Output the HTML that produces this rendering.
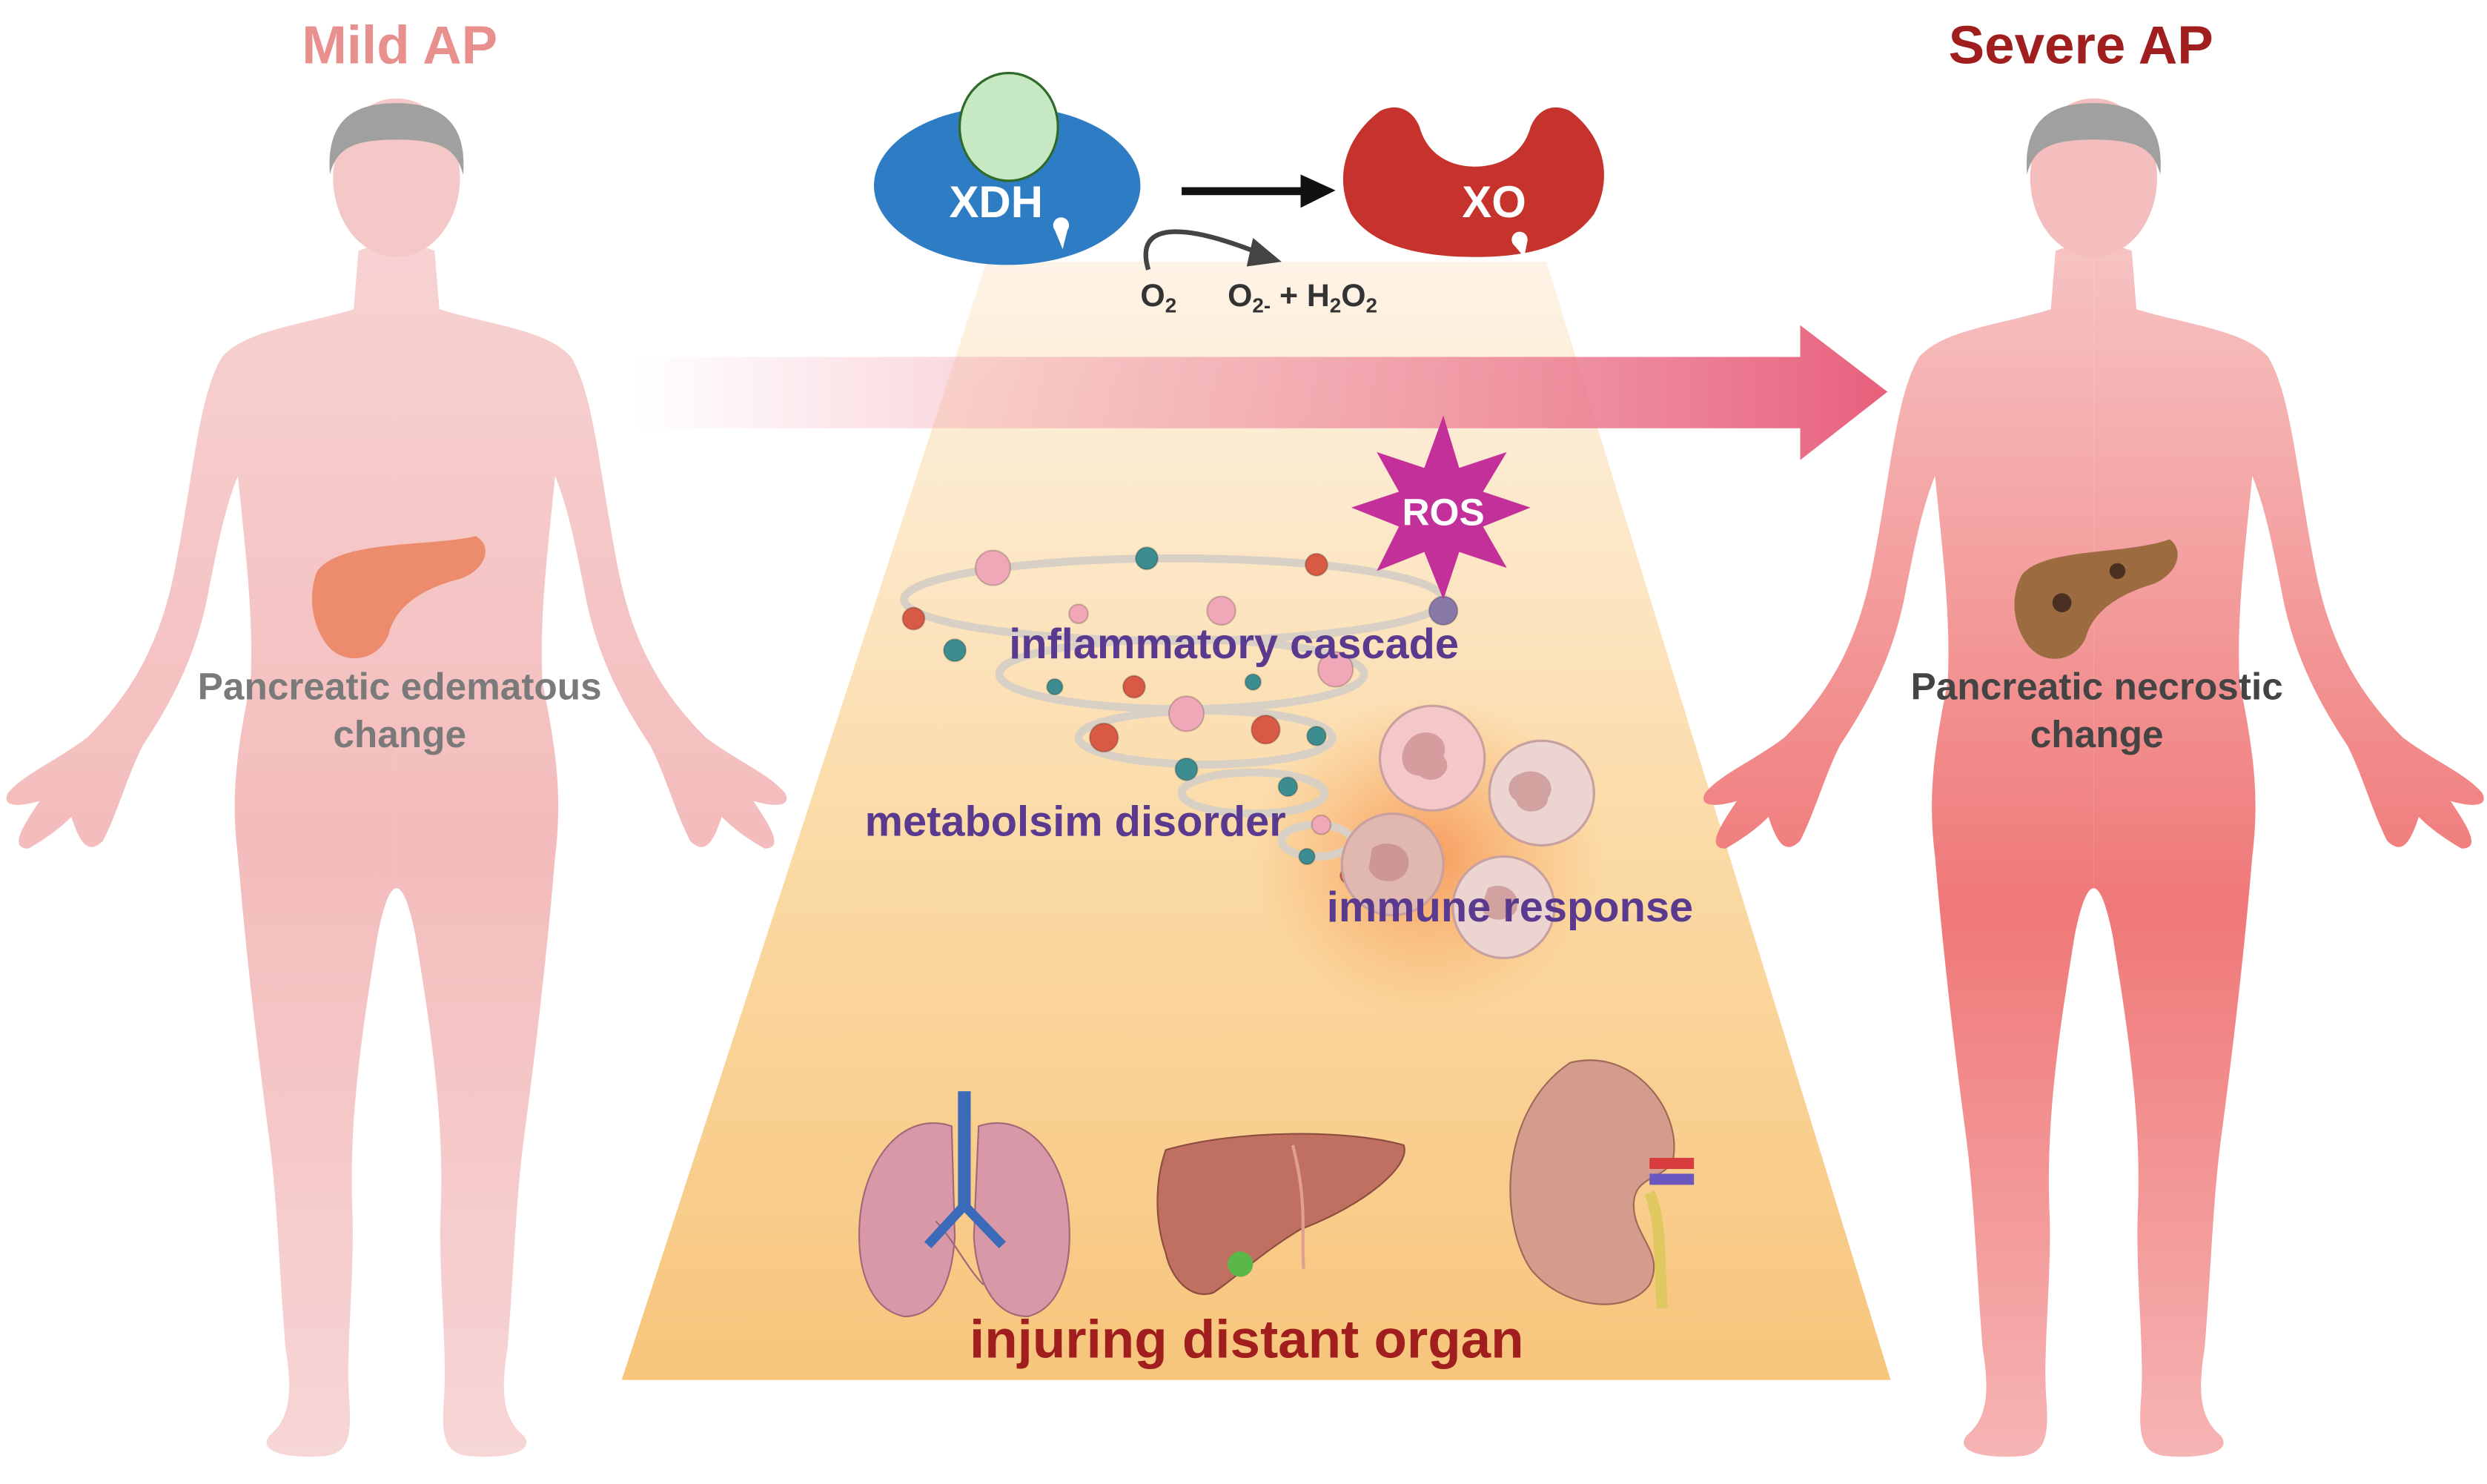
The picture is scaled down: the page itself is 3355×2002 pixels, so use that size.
<!DOCTYPE html>
<html><head><meta charset="utf-8"><style>
html,body{margin:0;padding:0;background:#fff;}
svg{display:block;}
text{font-family:"Liberation Sans",sans-serif;font-weight:bold;}
</style></head><body>
<svg width="3355" height="2002" viewBox="0 0 1568 935.6" xmlns="http://www.w3.org/2000/svg">
<defs>
<linearGradient id="trap" x1="0" y1="0" x2="0" y2="1">
<stop offset="0" stop-color="#fdf3e6"/><stop offset="0.5" stop-color="#fbdba8"/><stop offset="1" stop-color="#f7c57c"/></linearGradient>
<linearGradient id="arr" x1="0" y1="0" x2="1" y2="0">
<stop offset="0" stop-color="#f4a0b0" stop-opacity="0"/><stop offset="0.4" stop-color="#f09cac" stop-opacity="0.6"/><stop offset="1" stop-color="#e8607c"/></linearGradient>
<linearGradient id="bodyL" x1="0" y1="0" x2="0" y2="1">
<stop offset="0" stop-color="#f7d2d2"/><stop offset="0.5" stop-color="#f4bcbc"/><stop offset="1" stop-color="#f7d6d6"/></linearGradient>
<linearGradient id="bodyR" x1="0" y1="0" x2="0" y2="1">
<stop offset="0" stop-color="#f7c4c4"/><stop offset="0.55" stop-color="#f07878"/><stop offset="1" stop-color="#f6b4b4"/></linearGradient>
<radialGradient id="glow" cx="0.5" cy="0.5" r="0.5">
<stop offset="0" stop-color="#f58040" stop-opacity="0.7"/><stop offset="1" stop-color="#f8a050" stop-opacity="0"/></radialGradient>
<g id="half">
<path d="M0,150 L24,158 L27,195 C60,205 95,208 110,225 C125,250 128,300 140,360 C150,410 170,440 195,465 C215,480 235,488 245,500 C250,510 235,508 225,505 C235,520 245,535 232,535 C220,528 212,522 205,515 C200,530 195,540 185,530 C175,510 170,490 160,470 C140,440 125,410 118,370 C112,340 108,320 100,300 C95,350 90,390 92,430 C100,470 105,500 100,540 C95,600 88,660 80,720 C75,760 74,800 70,850 C65,880 68,895 80,905 C88,915 70,920 45,918 C30,916 28,905 30,880 C32,850 26,800 28,760 C30,700 20,640 12,590 C8,570 4,560 0,560 Z"/>
</g>
</defs>
<rect width="1568" height="935.6" fill="#fff"/>

<polygon points="622,165 975,165 1192,870 392,870" fill="url(#trap)"/>
<ellipse cx="900" cy="540" rx="110" ry="100" fill="url(#glow)"/>

<g transform="translate(250,0)" fill="url(#bodyL)">
<use href="#half"/><use href="#half" transform="scale(-1,1)"/>
<ellipse cx="0" cy="112" rx="40" ry="50" fill="#f5c8c8"/>
<path d="M-42,110 C-45,70 -20,65 0,65 C25,65 45,75 42,110 C38,95 30,88 0,88 C-30,88 -38,95 -42,110Z" fill="#a0a0a0"/>
</g>
<path d="M200,360 C215,340 270,345 300,338 C312,345 305,360 290,365 C270,370 250,380 245,400 C238,418 215,420 205,405 C195,390 195,372 200,360Z" fill="#ec8c6c"/>

<g transform="translate(1320,0)" fill="url(#bodyR)">
<use href="#half"/><use href="#half" transform="scale(-1,1)"/>
<ellipse cx="0" cy="112" rx="40" ry="50" fill="#f4bebe"/>
<path d="M-42,110 C-45,70 -20,65 0,65 C25,65 45,75 42,110 C38,95 30,88 0,88 C-30,88 -38,95 -42,110Z" fill="#a0a0a0"/>
</g>
<path d="M1275,362 C1290,345 1340,350 1368,340 C1378,348 1372,362 1358,368 C1338,374 1320,384 1315,402 C1308,418 1288,420 1278,406 C1268,392 1268,374 1275,362Z" fill="#9c6c40"/>
<circle cx="1300" cy="380" r="6" fill="#4a3020"/><circle cx="1335" cy="360" r="5" fill="#4a3020"/>

<polygon points="400,225 1135,225 1135,205 1190,247 1135,290 1135,270 400,270" fill="url(#arr)"/>

<ellipse cx="635" cy="117" rx="84" ry="50" fill="#2e7cc4"/>
<ellipse cx="636" cy="80" rx="31" ry="34" fill="#c6e8c2" stroke="#2f6a2a" stroke-width="1.5"/>
<path d="M665,145 a5,5 0 1 1 8,0 l-3,12 z" fill="#fff"/>
<text x="628" y="137" font-size="28" fill="#fff" text-anchor="middle">XDH</text>
<path d="M870,70 C880,65 890,68 895,80 C900,98 915,105 930,105 C945,105 960,98 965,80 C970,68 980,65 990,70 C1010,85 1018,110 1005,135 C990,155 965,162 930,162 C895,162 865,155 852,135 C840,110 850,85 870,70Z" fill="#c6322c"/>
<path d="M955,155 a5,5 0 1 1 8,-3 l-2,10 z" fill="#fff"/>
<text x="942" y="137" font-size="28" fill="#fff" text-anchor="middle">XO</text>
<rect x="745" y="118" width="80" height="5" fill="#111"/>
<polygon points="820,110 842,120 820,131" fill="#111"/>
<path d="M724,170 C715,140 745,140 795,160" fill="none" stroke="#444" stroke-width="3"/>
<polygon points="790,150 808,165 786,168" fill="#444"/>
<text x="719" y="193" font-size="20" fill="#333">O<tspan font-size="13" dy="4">2</tspan></text>
<text x="774" y="193" font-size="20" fill="#333">O<tspan font-size="13" dy="4">2-</tspan><tspan dy="-4"> + H</tspan><tspan font-size="13" dy="4">2</tspan><tspan dy="-4">O</tspan><tspan font-size="13" dy="4">2</tspan></text>

<text x="252" y="40" font-size="34" fill="#e8908e" text-anchor="middle">Mild AP</text>
<text x="1312" y="40" font-size="34" fill="#a01e1e" text-anchor="middle">Severe AP</text>

<g fill="none" stroke="#d8d0c4" stroke-width="5">
<ellipse cx="740" cy="378" rx="170" ry="26"/>
<ellipse cx="745" cy="425" rx="115" ry="22"/>
<ellipse cx="760" cy="465" rx="80" ry="17"/>
<ellipse cx="790" cy="500" rx="45" ry="13"/>
<ellipse cx="830" cy="530" rx="22" ry="10"/>
</g>
<g stroke="#00000030" stroke-width="1">
<circle cx="626" cy="358" r="11" fill="#f0a8b8"/><circle cx="723" cy="352" r="7" fill="#3c8c90"/>
<circle cx="830" cy="356" r="7" fill="#d85a44"/><circle cx="576" cy="390" r="7" fill="#d85a44"/>
<circle cx="602" cy="410" r="7" fill="#3c8c90"/><circle cx="680" cy="387" r="6" fill="#f0a8b8"/>
<circle cx="770" cy="385" r="9" fill="#f0a8b8"/><circle cx="910" cy="385" r="9" fill="#8878a8"/>
<circle cx="665" cy="433" r="5" fill="#3c8c90"/><circle cx="715" cy="433" r="7" fill="#d85a44"/>
<circle cx="790" cy="430" r="5" fill="#3c8c90"/><circle cx="842" cy="422" r="11" fill="#f0a8b8"/>
<circle cx="748" cy="450" r="11" fill="#f0a8b8"/><circle cx="696" cy="465" r="9" fill="#d85a44"/>
<circle cx="798" cy="460" r="9" fill="#d85a44"/><circle cx="830" cy="464" r="6" fill="#3c8c90"/>
<circle cx="748" cy="485" r="7" fill="#3c8c90"/><circle cx="812" cy="496" r="6" fill="#3c8c90"/>
<circle cx="833" cy="520" r="6" fill="#f0a8b8"/><circle cx="862" cy="538" r="5" fill="#3c8c90"/>
<circle cx="824" cy="540" r="5" fill="#3c8c90"/><circle cx="850" cy="552" r="5" fill="#d85a44"/>
</g>
<g stroke="#c8a0a0" stroke-width="1.5">
<circle cx="903" cy="478" r="33" fill="#f4c8c8"/>
<circle cx="972" cy="500" r="33" fill="#ecd4d0"/>
<circle cx="878" cy="545" r="32" fill="#e0b8b0"/>
<circle cx="948" cy="572" r="32" fill="#ecd4d0"/>
</g>
<g fill="#c08080" opacity="0.6">
<path d="M890,465 c10,-8 25,0 20,12 c8,8 -5,20 -15,12 c-12,0 -15,-15 -5,-24z"/>
<path d="M958,488 c12,-6 25,5 18,15 c0,10 -18,12 -20,2 c-8,-5 -5,-15 2,-17z"/>
<path d="M865,535 c10,-8 28,0 22,14 c-5,10 -22,8 -24,-2z"/>
<path d="M938,560 c10,-5 22,3 18,14 c-4,8 -20,8 -22,-2z"/>
</g>
<polygon points="910,262 920,295 950,285 935,310 965,320 935,332 950,358 920,348 910,378 898,348 868,360 882,332 852,320 882,310 868,285 898,295" fill="#c4309a"/>
<text x="910" y="331" font-size="24" fill="#fff" text-anchor="middle">ROS</text>

<text x="778" y="415" font-size="27" fill="#5a3a8e" text-anchor="middle">inflammatory cascade</text>
<text x="678" y="527" font-size="27" fill="#5a3a8e" text-anchor="middle">metabolsim disorder</text>
<text x="952" y="581" font-size="27" fill="#5a3a8e" text-anchor="middle">immune response</text>

<path d="M600,710 C570,700 545,730 542,770 C540,800 548,825 570,830 C590,830 600,810 602,780 Z" fill="#d898a8" stroke="#a06878"/>
<path d="M617,710 C648,700 672,730 674,770 C676,800 668,825 648,830 C628,830 616,810 614,780 Z" fill="#d898a8" stroke="#a06878"/>
<path d="M590,770 c10,10 20,30 30,40" stroke="#a06878" fill="none"/>
<rect x="604" y="688" width="8" height="75" fill="#3a6ab8"/>
<path d="M608,760 L585,785 M608,760 L632,785" stroke="#3a6ab8" stroke-width="6"/>
<path d="M735,725 C780,712 850,712 885,722 C890,735 860,760 820,775 C795,790 780,805 765,815 C750,820 738,805 735,790 C728,770 728,745 735,725Z" fill="#c07060" stroke="#8c4c40"/>
<path d="M815,722 C825,760 820,780 822,800" stroke="#e0a090" fill="none" stroke-width="2"/>
<circle cx="782" cy="797" r="8" fill="#5ab84a"/>
<path d="M990,670 C1030,660 1060,700 1055,730 C1050,745 1030,740 1030,760 C1030,780 1050,790 1040,810 C1025,830 985,825 965,800 C945,770 945,700 990,670Z" fill="#d49c8c" stroke="#a06858"/>
<rect x="1040" y="730" width="28" height="7" fill="#d83c3c"/>
<rect x="1040" y="740" width="28" height="7" fill="#6a58c0"/>
<path d="M1040,752 C1048,770 1046,800 1048,825" stroke="#e0c860" stroke-width="7" fill="none"/>

<text x="786" y="856" font-size="34" fill="#a01e1e" text-anchor="middle">injuring distant organ</text>

<text x="252" y="441" font-size="24" fill="#7a7a7a" text-anchor="middle">Pancreatic edematous</text>
<text x="252" y="471" font-size="24" fill="#7a7a7a" text-anchor="middle">change</text>
<text x="1322" y="441" font-size="24" fill="#444" text-anchor="middle">Pancreatic necrostic</text>
<text x="1322" y="471" font-size="24" fill="#444" text-anchor="middle">change</text>
</svg>
</body></html>
